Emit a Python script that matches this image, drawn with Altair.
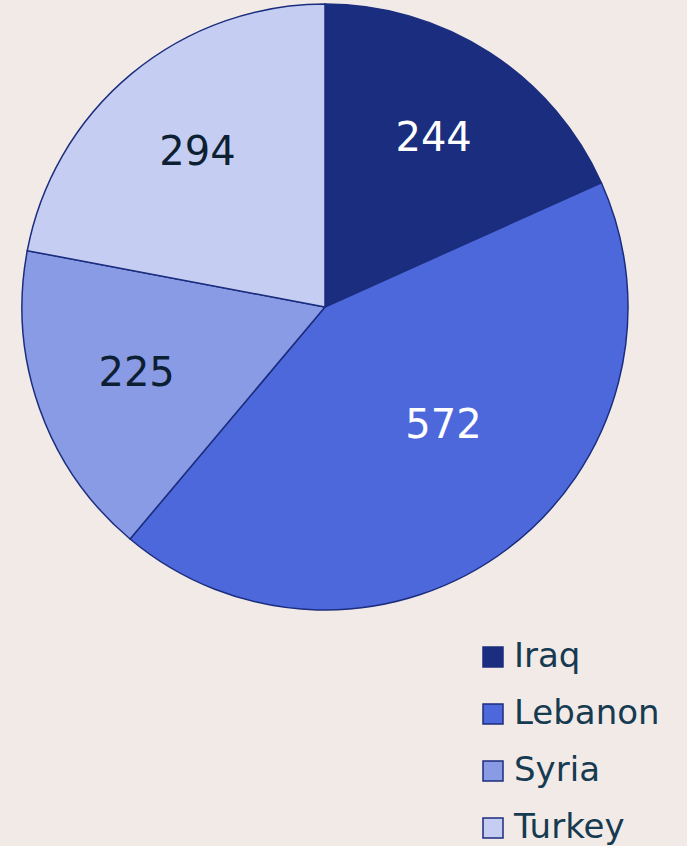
import altair as alt
import pandas as pd

countries = ["Iraq", "Lebanon", "Syria", "Turkey"]
values = [244, 572, 225, 294]
colors = ["#1B2D7E", "#4C68DB", "#8A9BE6", "#C5CEF2"]
label_colors = ["#FFFFFF", "#FFFFFF", "#0D1F33", "#0D1F33"]

df = pd.DataFrame({"country": countries, "value": values, "order": list(range(len(countries))),
                   "lc": label_colors})

CX, CY, R = 325, 307, 303
FONT = "DejaVu Sans"

base = alt.Chart(df).encode(
    theta=alt.Theta("value:Q", stack=True),
    order=alt.Order("order:Q"),
)

pie = base.mark_arc(stroke="#1B2D7E", strokeWidth=1.5).encode(
    x=alt.value(CX), y=alt.value(CY),
    radius=alt.value(R),
    color=alt.Color(
        "country:N",
        scale=alt.Scale(domain=countries, range=colors),
        legend=alt.Legend(
            title=None, orient="none", legendX=476, legendY=640,
            symbolType="square", symbolSize=400,
            symbolStrokeColor="#1B2D7E", symbolStrokeWidth=1.5,
            labelFontSize=34, labelFont=FONT, labelColor="#163A50",
            labelOffset=4, rowPadding=23, labelLimit=300,
        ),
    ),
)

labels = base.mark_text(fontSize=40, font=FONT, baseline="middle", align="center").encode(
    x=alt.value(CX), y=alt.value(CY),
    radius=alt.value(200),
    text=alt.Text("value:Q"),
    color=alt.Color("lc:N", scale=None),
    opacity=alt.condition(alt.datum.country == "Lebanon", alt.value(0), alt.value(1)),
)

labels_leb = base.mark_text(fontSize=40, font=FONT, baseline="middle", align="center",
                            dx=16, dy=-17).encode(
    x=alt.value(CX), y=alt.value(CY),
    radius=alt.value(170),
    text=alt.Text("value:Q"),
    color=alt.Color("lc:N", scale=None),
    opacity=alt.condition(alt.datum.country == "Lebanon", alt.value(1), alt.value(0)),
)

chart = alt.layer(pie, labels, labels_leb).properties(
    width=687, height=846, padding=0, background="#F2EAE7",
    autosize=alt.AutoSizeParams(type="none"),
).configure_view(stroke=None)

chart.save("out.html", embed_options={"renderer": "svg", "actions": False})
